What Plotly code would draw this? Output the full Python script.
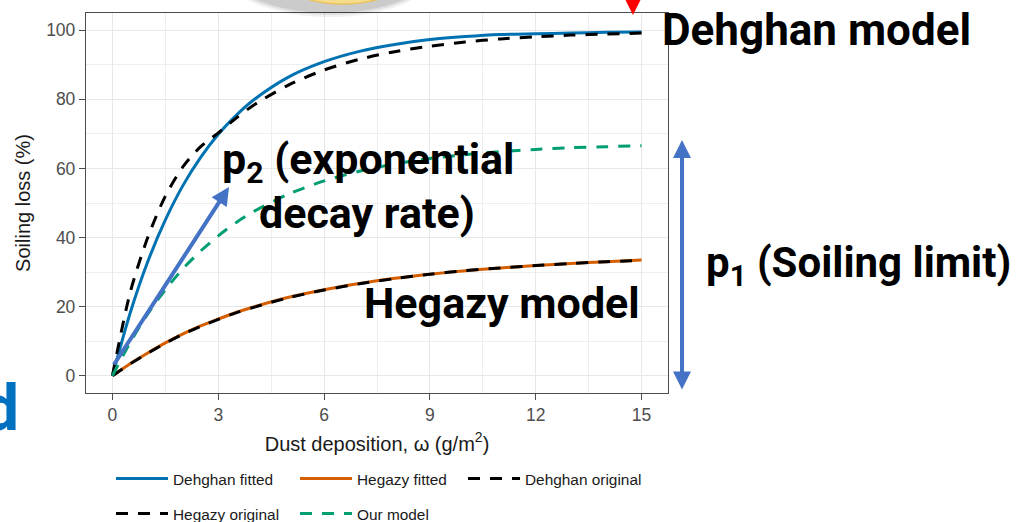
import plotly.graph_objects as go

# ---- data ----
dust = [0, 0.5, 1, 1.5, 2, 2.5, 3, 3.5, 4, 5, 6, 7, 8, 9, 10, 11, 12, 13, 14, 15]
dehghan_fitted = [0, 18.1, 33.0, 45.1, 55.1, 63.2, 69.9, 75.3, 79.8, 86.5, 90.9, 93.9, 95.9,
                  97.3, 98.2, 98.8, 99.0, 99.2, 99.4, 99.5]
hegazy_fitted = [0, 3.5, 6.6, 9.5, 12.1, 14.4, 16.4, 18.3, 19.9, 22.7, 24.9, 26.7, 28.2,
                 29.4, 30.4, 31.2, 31.9, 32.5, 33.0, 33.5]
dehghan_original = [0, 24.0, 40.0, 52.0, 60.5, 66.3, 70.3, 74.5, 78.3, 84.2, 88.5, 91.6, 93.8,
                    95.4, 96.6, 97.5, 98.1, 98.6, 98.9, 99.2]
hegazy_original = [0, 3.4, 6.5, 9.4, 12.0, 14.3, 16.3, 18.2, 19.8, 22.6, 24.8, 26.6, 28.1,
                   29.4, 30.4, 31.2, 31.9, 32.5, 33.0, 33.4]
our_model = [0, 9.6, 17.9, 24.9, 31.0, 36.1, 40.5, 44.3, 47.5, 52.6, 56.4, 59.2, 61.3,
             62.9, 64.0, 64.9, 65.5, 66.0, 66.3, 66.6]

x_ticks = [0, 3, 6, 9, 12, 15]
y_ticks = [0, 20, 40, 60, 80, 100]

W, H = 1025, 522
L, R, T, B = 86, 357, 13, 129
PW, PH = W - L - R, H - T - B


def px(xp):
    return (xp - L) / PW


def py(yp):
    return (H - B - yp) / PH


FONT = "Liberation Sans, Arial, sans-serif"
BIG = "Roboto, Lato, sans-serif"

fig = go.Figure()
# name, values, colour, dash, legend id, legend left (px), legend row centre (px)
series = [
    ("Dehghan fitted", dehghan_fitted, "#0072B2", "solid", "legend", 111, 479),
    ("Hegazy fitted", hegazy_fitted, "#D55E00", "solid", "legend2", 295, 479),
    ("Dehghan original", dehghan_original, "black", "12px,10px", "legend3", 463, 479),
    ("Hegazy original", hegazy_original, "black", "12px,10px", "legend4", 111, 514),
    ("Our model", our_model, "#009E73", "12px,10px", "legend5", 295, 514),
]
for name, ys, col, dash, leg, _, _ in series:
    fig.add_trace(go.Scatter(
        x=dust, y=ys, name=name, mode="lines",
        line=dict(color=col, width=3, dash=dash, shape="spline", smoothing=0.8),
        legend=leg,
    ))

axis_common = dict(
    showgrid=True, gridcolor="#E8E8E8", gridwidth=1.2,
    showline=True, linecolor="#4D4D4D", linewidth=1.3, mirror=True,
    ticks="outside", ticklen=6, tickcolor="#4D4D4D", tickwidth=1.2,
    tickfont=dict(family=FONT, size=17.5, color="#4D4D4D"),
    zeroline=False, automargin=False,
)
fig.update_xaxes(
    range=[-0.75, 15.75], tickvals=x_ticks, **axis_common,
    minor=dict(dtick=1.5, tick0=0, showgrid=True, gridcolor="#EEEEEE", gridwidth=1),
    title=dict(text="Dust deposition, ω (g/m<sup>2</sup>)", font=dict(family=FONT, size=20, color="#1A1A1A"), standoff=12),
)
fig.update_yaxes(
    range=[-5, 105], tickvals=y_ticks, **axis_common,
    minor=dict(dtick=10, tick0=0, showgrid=True, gridcolor="#EEEEEE", gridwidth=1),
    title=dict(text="Soiling loss (%)", font=dict(family=FONT, size=20, color="#1A1A1A"), standoff=10),
)

legends = {}
for _, _, _, _, leg, lx, ly in series:
    legends[leg] = dict(
        orientation="h", font=dict(family=FONT, size=15.4, color="#1A1A1A"),
        bgcolor="rgba(0,0,0,0)", itemwidth=52, xanchor="left", yanchor="middle",
        xref="container", yref="container", x=lx / W, y=1 - ly / H,
    )
fig.update_layout(
    width=W, height=H, autosize=False,
    margin=dict(l=L, r=R, t=T, b=B, autoexpand=False),
    paper_bgcolor="white", plot_bgcolor="white",
    showlegend=True,
    **legends,
)

# ---- slide overlay decorations ----
# yellow ellipse (partially visible) with soft shadow
for i, a in enumerate([0.05, 0.07, 0.09]):
    g = 6 - 2 * i
    fig.add_shape(type="circle", xref="paper", yref="paper",
                  x0=px(232 - g), x1=px(428 + g), y0=py(11 + g), y1=py(-70),
                  fillcolor=f"rgba(0,0,0,{a})", line=dict(width=0), layer="above")
fig.add_shape(type="circle", xref="paper", yref="paper",
              x0=px(272), x1=px(414), y0=py(4), y1=py(-70),
              fillcolor="#F6DD8E", line=dict(color="#E8C25A", width=1.5), layer="above")

text_ann = [
    ("Dehghan model", 660, 30, "left", 44),
    ("Hegazy model", 642, 303, "right", 43),
    ("p<sub>1</sub> (Soiling limit)", 704, 265, "left", 42),
    ("p<sub>2</sub> (exponential", 368, 162, "center", 43),
    ("decay rate)", 367, 213, "center", 43),
]
for txt, xp, yp, anc, sz in text_ann:
    fig.add_annotation(text=txt, xref="paper", yref="paper", x=px(xp), y=py(yp),
                       xanchor=anc, yanchor="middle", showarrow=False, align="center",
                       font=dict(family=BIG, size=sz, color="black", weight="bold"))

# blue "d" cut at the left edge
fig.add_annotation(text="d", xref="paper", yref="paper", x=px(21), y=py(408),
                   xanchor="right", yanchor="middle", showarrow=False,
                   font=dict(family=BIG, size=64, color="#0070C0", weight="bold"))

# double-headed vertical arrow (soiling limit)
fig.add_annotation(xref="paper", yref="paper", x=px(682), y=py(140), ax=0, ay=251,
                   text="", showarrow=True, arrowhead=2, startarrowhead=2,
                   arrowside="end+start", arrowwidth=4, arrowsize=0.9, startarrowsize=0.9,
                   arrowcolor="#4472C4")
# diagonal arrow (decay rate)
fig.add_annotation(xref="paper", yref="paper", x=px(229), y=py(187),
                   axref="pixel", ayref="pixel", ax=-116, ay=179,
                   text="", showarrow=True, arrowhead=2, arrowwidth=4, arrowsize=0.9,
                   arrowcolor="#4472C4")
# red arrow head at top
fig.add_annotation(xref="paper", yref="paper", x=px(633), y=py(15),
                   ax=0, ay=-40, text="", showarrow=True, arrowhead=2,
                   arrowwidth=3, arrowsize=1.1, arrowcolor="#FF0000")

fig.write_html("out.html")
